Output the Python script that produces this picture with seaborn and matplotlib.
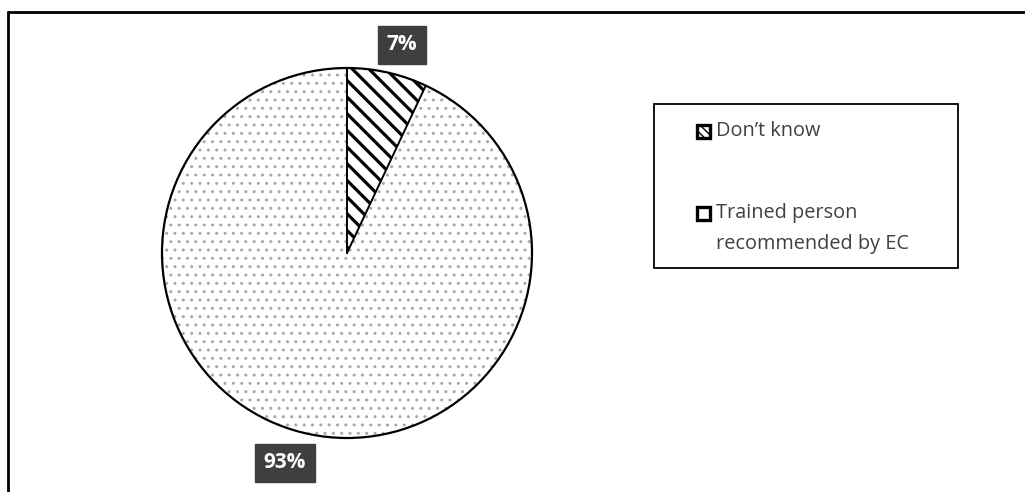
import matplotlib
matplotlib.use("Agg")
import matplotlib.pyplot as plt
from matplotlib.patches import Rectangle, Circle
from matplotlib.lines import Line2D
import numpy as np
import seaborn as sns

# Who carries out the work: share of responses
categories = ["Don\u2019t know", "Trained person\nrecommended by EC"]
shares = [7, 93]
share_labels = ["7%", "93%"]

sns.set_theme(style="white")
plt.rcParams["font.family"] = ["Open Sans", "DejaVu Sans"]

W, H = 1025, 492
fig = plt.figure(figsize=(W / 100, H / 100), dpi=100)
fig.patch.set_facecolor("white")

# Pie axes: centre (347, 253) px, radius 185 px, with a small margin so the rim is not clipped
cx, cy, r = 347, 253, 185
m = 1.05
ax = fig.add_axes([(cx - r * m) / W, 1 - (cy + r * m) / H, 2 * r * m / W, 2 * r * m / H])

wedges, _ = ax.pie(shares, startangle=90, counterclock=False, radius=1,
                   labels=None, wedgeprops=dict(linewidth=0))
ax.set_xlim(-m, m)
ax.set_ylim(-m, m)
ax.set_aspect("equal")
ax.axis("off")

wedges[0].set_facecolor("white")
wedges[0].set_edgecolor("black")
wedges[0].set_hatch("\\\\")
wedges[1].set_facecolor("white")
wedges[1].set_edgecolor("#a8a8a8")
wedges[1].set_hatch("..")
if hasattr(wedges[0], "set_hatch_linewidth"):
    wedges[0].set_hatch_linewidth(2.3)
    wedges[1].set_hatch_linewidth(1.0)

ax.add_patch(Circle((0, 0), 1, fill=False, edgecolor="black", linewidth=1.6, zorder=5))
# separating edges of the small slice
theta_end = np.deg2rad(90 - 360 * shares[0] / sum(shares))
ax.plot([0, 0], [0, 1], color="black", lw=1.4, zorder=6)
ax.plot([0, np.cos(theta_end)], [0, np.sin(theta_end)], color="black", lw=1.4, zorder=6)

# Value labels in dark boxes
box = dict(boxstyle="square,pad=0.4", facecolor="#3f3f3f", edgecolor="#3f3f3f")
fig.text(402 / W, 1 - 45 / H, share_labels[0], color="white", fontsize=15,
         fontweight="bold", ha="center", va="center", bbox=box)
fig.text(285 / W, 1 - 463 / H, share_labels[1], color="white", fontsize=15,
         fontweight="bold", ha="center", va="center", bbox=box)

# Legend frame
fig.patches.append(Rectangle((654 / W, 1 - 268 / H), (958 - 654) / W, (268 - 104) / H,
                             transform=fig.transFigure, facecolor="white",
                             edgecolor="black", linewidth=1.3, zorder=1))
# Legend entries: key squares with labels
key_hatches = ["\\\\\\\\", None]
key_centres = [131, 213]
for label, hatch, yc in zip(categories, key_hatches, key_centres):
    fig.patches.append(Rectangle((697 / W, 1 - (yc + 6.5) / H), 13 / W, 13 / H,
                                 transform=fig.transFigure, facecolor="white",
                                 edgecolor="black", hatch=hatch, linewidth=2.4, zorder=2))
    fig.text(716 / W, 1 - (yc - 10) / H, label, color="#404040", fontsize=14.3,
             ha="left", va="top", linespacing=1.72, zorder=3)

# Outer frame lines (top and left)
fig.lines.append(Line2D([8 / W, 1], [1 - 12 / H, 1 - 12 / H], transform=fig.transFigure,
                        color="black", linewidth=2))
fig.lines.append(Line2D([8 / W, 8 / W], [1 - 12 / H, 0], transform=fig.transFigure,
                        color="black", linewidth=2))

fig.savefig("out.png", dpi=100, facecolor="white")
